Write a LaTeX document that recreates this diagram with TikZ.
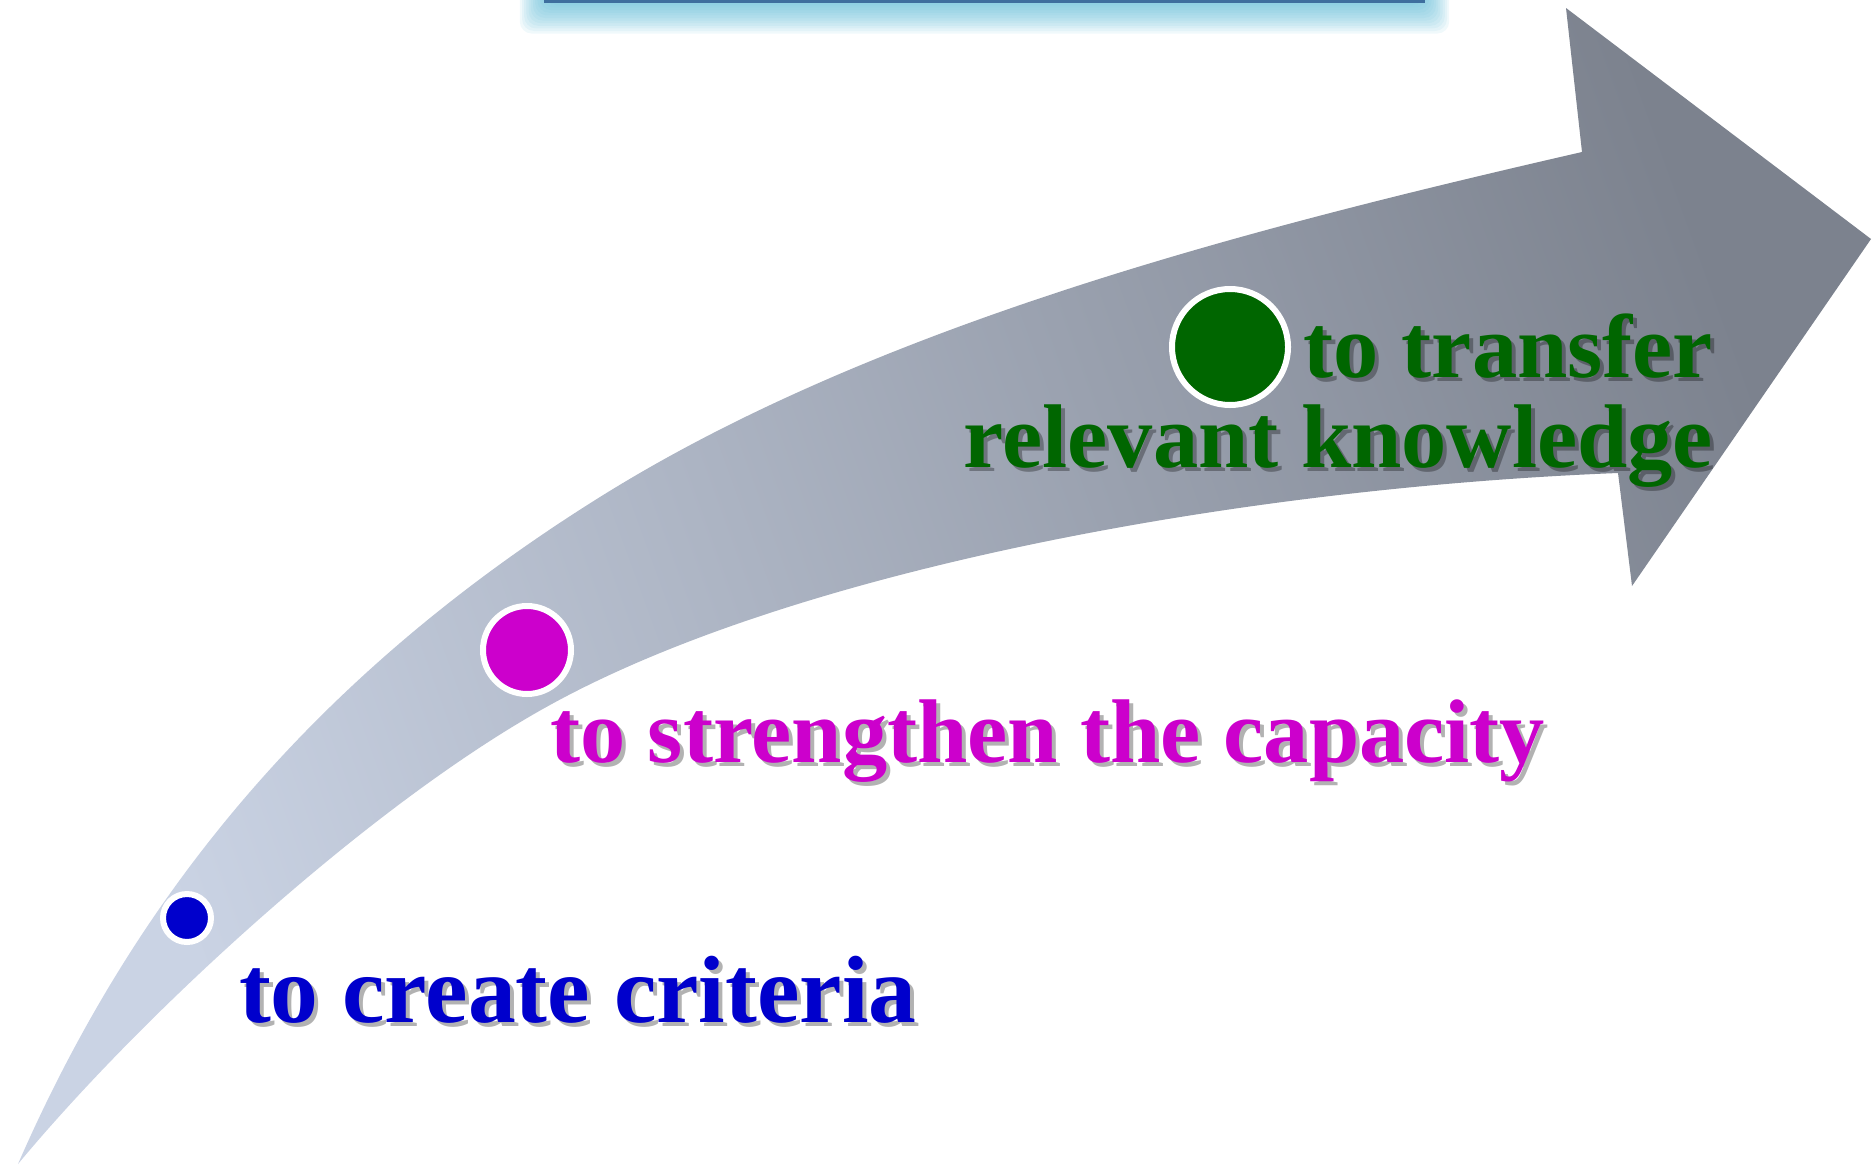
\documentclass[tikz,border=0pt]{standalone}
\usepackage{fontspec}
\setmainfont{Liberation Serif}
\definecolor{arrowlight}{HTML}{CAD3E4}
\definecolor{arrowdark}{HTML}{7C828E}
\definecolor{blueC}{HTML}{0000CC}
\definecolor{pinkC}{HTML}{CC00CC}
\definecolor{greenC}{HTML}{006600}
\definecolor{glowC}{HTML}{5CB9D5}
\definecolor{barC}{HTML}{3E6E9E}
\begin{document}
\begin{tikzpicture}[x=0.5pt,y=-0.5pt,
  lbl/.style={inner sep=0pt, outer sep=0pt},
  bigfont/.style={font=\bfseries\fontsize{47.8}{56}\selectfont},
  midfont/.style={font=\bfseries\fontsize{45.2}{54}\selectfont},
  shd/.style={text=black, opacity=0.3},
  dot/.style={circle, draw=white, line width=3pt, inner sep=0pt}]
\useasboundingbox (0,0) rectangle (1872,1167);
% top glow bar
\foreach \i in {0,...,11}
  \fill[glowC, opacity=0.09, rounded corners=6pt] (544-\i*2.2,-20) rectangle (1425+\i*2.2,5+\i*2.6);
\fill[barC] (544,0) rectangle (1425,3);
% arrow
\shade[top color=arrowdark, bottom color=arrowlight, shading angle=-70]
  (18,1164) .. controls (138,889) and (320,672) .. (600,497)
  .. controls (880,322) and (1260,226) .. (1582,152)
  -- (1566,8) -- (1871,239) -- (1632,586) -- (1618,473)
  .. controls (1238,488) and (795,570) .. (550,705)
  .. controls (375,801) and (146,1010) .. (18,1164) -- cycle;
% dots
\node[dot, fill=blueC, minimum size=24pt] (d1) at (187,918) {};
\node[dot, fill=pinkC, minimum size=44pt] (d2) at (527,650) {};
\node[dot, fill=greenC, minimum size=58pt] (d3) at (1230,347) {};
% label shadows
\node[lbl, bigfont, shd, anchor=base west] (s1) at (243,1026) {to create criteria};
\node[lbl, midfont, shd, anchor=base west] (s2) at (554,766) {to strengthen the capacity};
\node[lbl, midfont, shd, anchor=base east] (s3a) at (1717,381) {to transfer};
\node[lbl, midfont, shd, anchor=base east] (s3b) at (1717,471) {relevant knowledge};
% labels
\node[lbl, bigfont, text=blueC, anchor=base west] (t1) at (239,1022) {to create criteria};
\node[lbl, midfont, text=pinkC, anchor=base west] (t2) at (550,762) {to strengthen the capacity};
\node[lbl, midfont, text=greenC, anchor=base east] (t3a) at (1713,377) {to transfer};
\node[lbl, midfont, text=greenC, anchor=base east] (t3b) at (1713,467) {relevant knowledge};
\end{tikzpicture}
\end{document}
